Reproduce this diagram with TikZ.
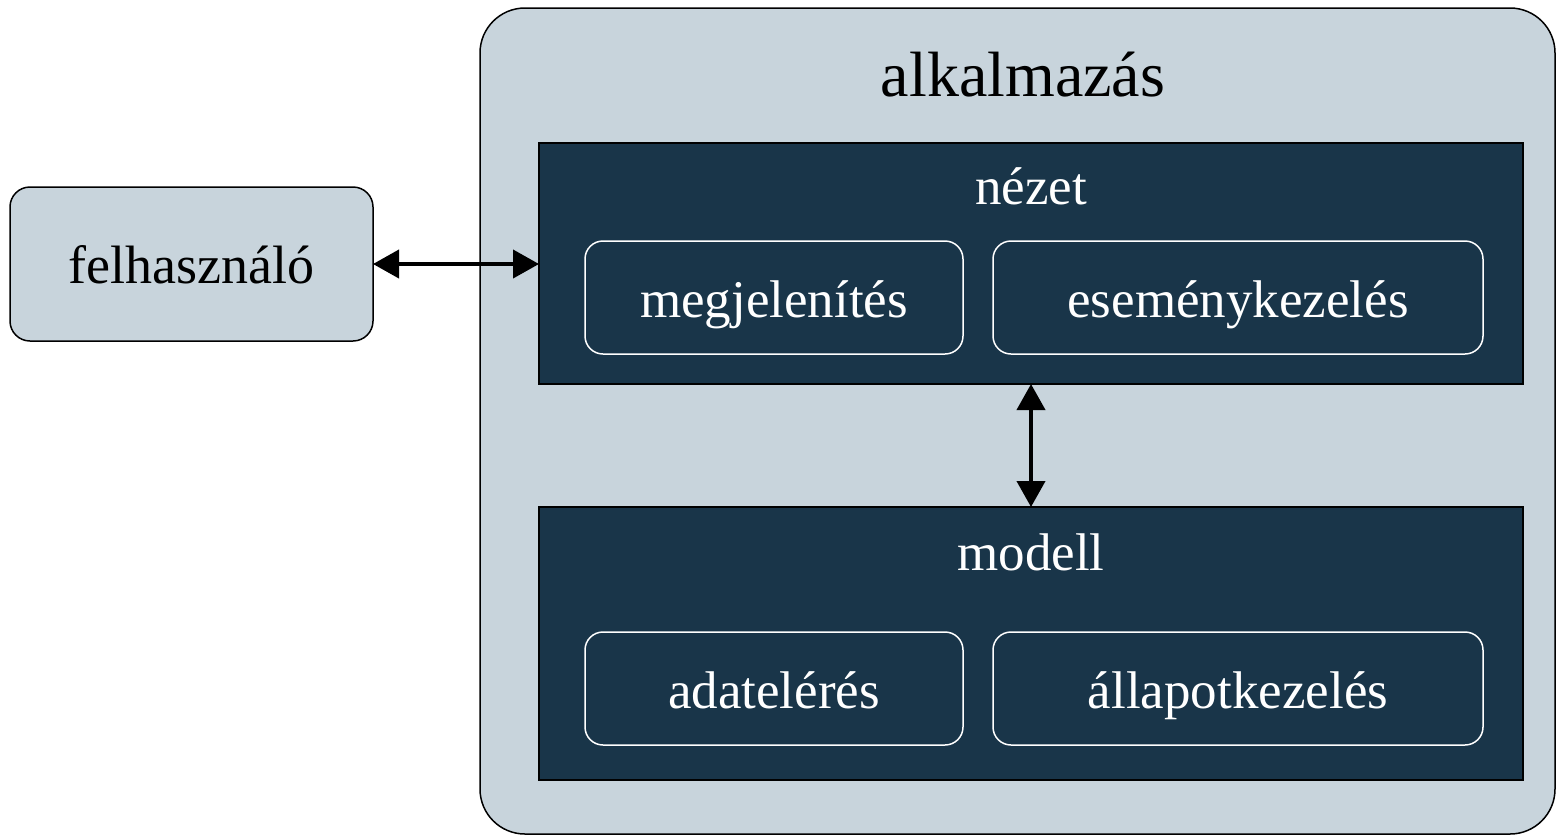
\documentclass[tikz,border=0pt]{standalone}
\usepackage{fontspec}
\setmainfont{Liberation Serif}
\usetikzlibrary{arrows.meta}
\definecolor{lightbg}{HTML}{C8D4DC}
\definecolor{darkbg}{HTML}{193549}
\tikzset{
  every node/.style={inner sep=0pt, outer sep=0pt},
  lightbox/.style={draw=black, fill=lightbg, line width=1.5pt, rounded corners=#1},
  darkbox/.style={draw=black, fill=darkbg, line width=1.5pt},
  innerbox/.style={draw=white, line width=1.5pt, rounded corners=18pt, text=white, font=\fontsize{53}{60}\selectfont, text height=50pt, text depth=11pt},
  dlabel/.style={text=white, font=\fontsize{53}{60}\selectfont},
  conn/.style={line width=4pt, {Triangle[length=26pt,width=28pt]}-{Triangle[length=26pt,width=28pt]}}
}
\begin{document}
\begin{tikzpicture}[x=1pt,y=-1pt]
\useasboundingbox (0,0) rectangle (1557,836);
% outer application box
\node[lightbox=45pt, minimum width=1075pt, minimum height=826pt] (app) at (1017.5,421) {};
\node[font=\fontsize{64}{72}\selectfont, anchor=base] (apptitle) at (1023,96) {alkalmazás};
% user
\node[lightbox=20pt, minimum width=363pt, minimum height=154pt, font=\fontsize{54}{60}\selectfont, text height=50pt, text depth=11pt] (user) at (191.5,264) {felhasználó};
% view
\node[darkbox, minimum width=984pt, minimum height=241pt] (view) at (1031,263.5) {};
\node[dlabel, anchor=base] (viewlbl) at (1031,204) {nézet};
\node[innerbox, minimum width=378pt, minimum height=113pt] (disp) at (774,297.5) {megjelenítés};
\node[innerbox, minimum width=490pt, minimum height=113pt] (event) at (1238,297.5) {eseménykezelés};
% model
\node[darkbox, minimum width=984pt, minimum height=273pt] (model) at (1031,643.5) {};
\node[dlabel, anchor=base] (modellbl) at (1031,570) {modell};
\node[innerbox, minimum width=378pt, minimum height=113pt] (data) at (774,688.5) {adatelérés};
\node[innerbox, minimum width=490pt, minimum height=113pt] (state) at (1238,688.5) {állapotkezelés};
% connectors
\draw[conn] (user.east |- 0,264) -- (view.west |- 0,264);
\draw[conn] (view.south -| 1031,0) -- (model.north -| 1031,0);
\end{tikzpicture}
\end{document}
